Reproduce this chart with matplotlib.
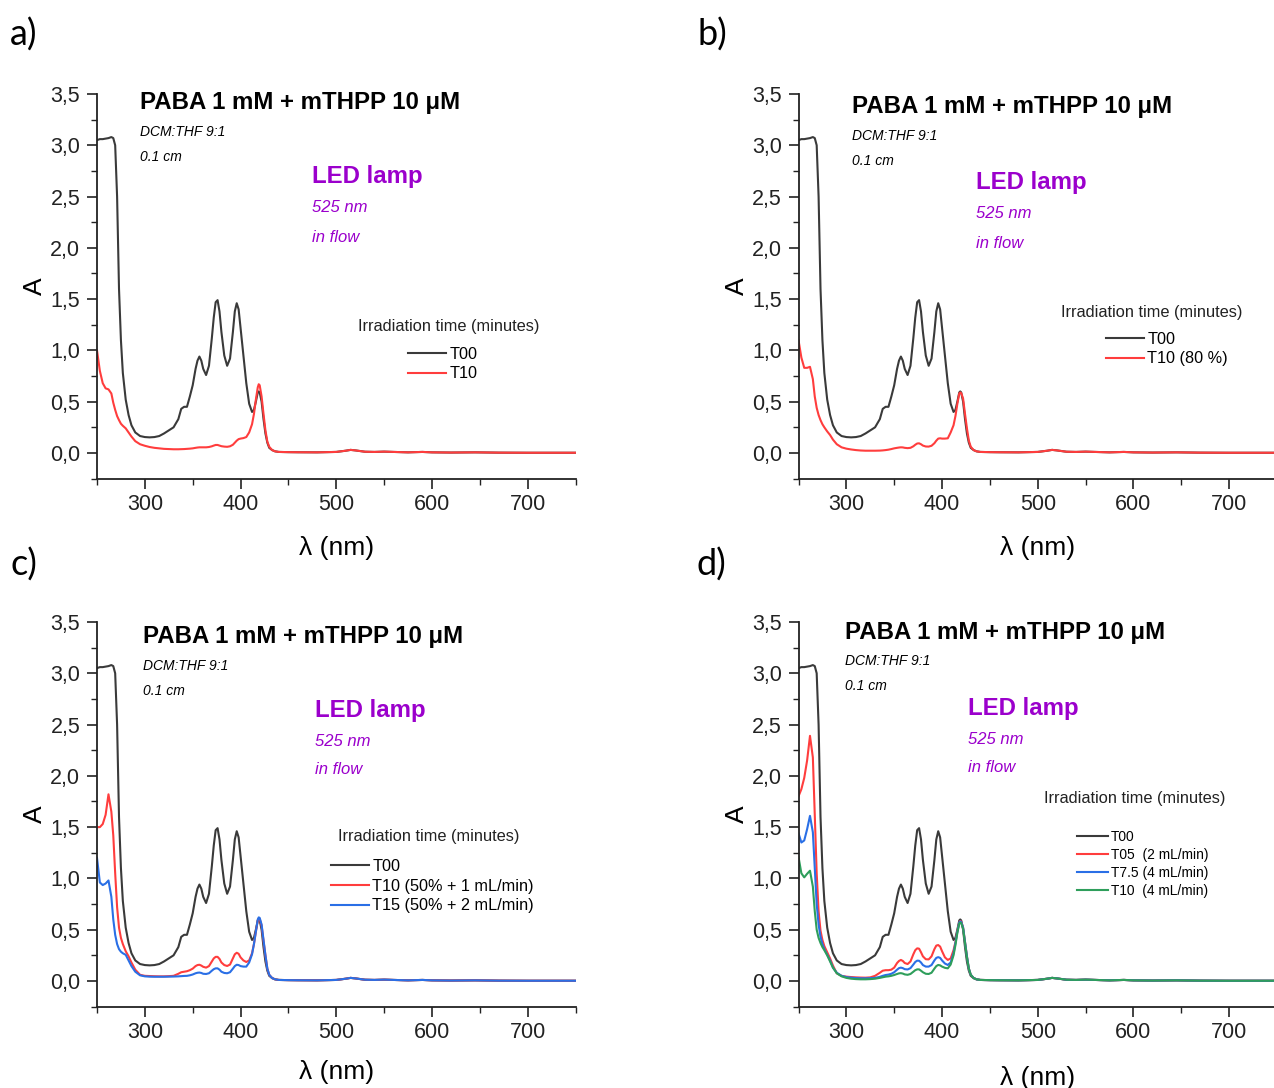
import matplotlib
matplotlib.use("Agg")
import matplotlib.pyplot as plt
from matplotlib.ticker import MultipleLocator, FuncFormatter

plt.rcParams['font.family'] = ['Liberation Sans', 'DejaVu Sans']

# ---------------- data ----------------
wl_head = [250, 253, 256, 259, 262, 265, 267, 269, 271, 273, 275, 277, 280, 283, 286, 290,
           295, 300, 305, 310, 315, 320, 325, 330, 335, 338, 341, 344, 347, 350, 353, 355,
           357, 359, 361, 364, 367, 370, 372, 374, 376, 378, 380, 383, 386, 389, 392, 394,
           396, 398, 400, 403, 406, 409, 412, 414, 416, 418, 419, 420, 422, 424, 426, 428, 430]
wl_tail = [433, 436, 440, 450, 460, 480, 500, 510, 515, 520, 530, 540, 550, 560, 575, 590,
           600, 620, 645, 670, 700, 730, 750]
# Q-band baseline region, common to every spectrum
abs_tail = [0.028, 0.016, 0.010, 0.008, 0.007, 0.006, 0.010, 0.022, 0.030, 0.025, 0.012, 0.010,
            0.013, 0.010, 0.006, 0.010, 0.006, 0.004, 0.006, 0.003, 0.002, 0.002, 0.002]

t00 = [3.05, 3.06, 3.06, 3.065, 3.07, 3.08, 3.07, 3.00, 2.50, 1.60, 1.10, 0.78, 0.52, 0.37, 0.27, 0.20,
       0.165, 0.155, 0.152, 0.155, 0.165, 0.19, 0.22, 0.25, 0.33, 0.43, 0.45, 0.45, 0.55, 0.66, 0.82, 0.90,
       0.94, 0.90, 0.82, 0.76, 0.85, 1.12, 1.32, 1.47, 1.49, 1.38, 1.18, 0.95, 0.85, 0.92, 1.18, 1.38,
       1.46, 1.40, 1.22, 0.95, 0.68, 0.48, 0.40, 0.42, 0.50, 0.59, 0.60, 0.59, 0.50, 0.33, 0.19, 0.10, 0.05]

a_t10 = [1.00, 0.80, 0.68, 0.63, 0.62, 0.58, 0.49, 0.42, 0.36, 0.32, 0.285, 0.265, 0.24, 0.20, 0.16, 0.115,
         0.085, 0.07, 0.058, 0.05, 0.045, 0.04, 0.038, 0.036, 0.036, 0.037, 0.038, 0.04, 0.042, 0.045, 0.05, 0.053,
         0.055, 0.055, 0.055, 0.055, 0.058, 0.065, 0.072, 0.078, 0.078, 0.072, 0.066, 0.062, 0.06, 0.065, 0.08, 0.10,
         0.12, 0.135, 0.14, 0.145, 0.155, 0.20, 0.28, 0.38, 0.52, 0.64, 0.67, 0.66, 0.55, 0.38, 0.22, 0.11, 0.06]

b_t10 = [1.10, 0.93, 0.83, 0.83, 0.84, 0.72, 0.55, 0.44, 0.37, 0.32, 0.28, 0.25, 0.21, 0.175, 0.13, 0.085,
         0.055, 0.042, 0.034, 0.028, 0.024, 0.022, 0.022, 0.022, 0.023, 0.025, 0.028, 0.032, 0.038, 0.045, 0.05, 0.053,
         0.055, 0.054, 0.05, 0.047, 0.05, 0.065, 0.08, 0.092, 0.094, 0.085, 0.072, 0.063, 0.062, 0.07, 0.095, 0.12,
         0.14, 0.143, 0.14, 0.14, 0.143, 0.20, 0.27, 0.36, 0.48, 0.58, 0.59, 0.585, 0.53, 0.38, 0.24, 0.12, 0.06]

c_t10 = [1.50, 1.50, 1.53, 1.62, 1.82, 1.65, 1.42, 1.05, 0.72, 0.52, 0.42, 0.36, 0.29, 0.24, 0.18, 0.11,
         0.06, 0.05, 0.048, 0.046, 0.045, 0.045, 0.047, 0.05, 0.07, 0.085, 0.09, 0.095, 0.105, 0.12, 0.145, 0.155,
         0.158, 0.15, 0.138, 0.13, 0.145, 0.19, 0.22, 0.235, 0.235, 0.215, 0.18, 0.155, 0.146, 0.16, 0.22, 0.26,
         0.275, 0.265, 0.23, 0.20, 0.185, 0.20, 0.27, 0.36, 0.48, 0.59, 0.61, 0.605, 0.54, 0.39, 0.25, 0.12, 0.06]

c_t15 = [1.20, 0.96, 0.935, 0.95, 0.98, 0.82, 0.60, 0.45, 0.36, 0.31, 0.285, 0.27, 0.255, 0.20, 0.145, 0.09,
         0.055, 0.045, 0.042, 0.041, 0.041, 0.041, 0.042, 0.043, 0.045, 0.047, 0.049, 0.05, 0.055, 0.063, 0.075, 0.08,
         0.082, 0.078, 0.07, 0.068, 0.075, 0.10, 0.115, 0.123, 0.123, 0.11, 0.09, 0.078, 0.075, 0.085, 0.12, 0.145,
         0.158, 0.155, 0.145, 0.14, 0.14, 0.18, 0.26, 0.36, 0.48, 0.60, 0.62, 0.615, 0.55, 0.40, 0.25, 0.12, 0.06]

d_t05 = [1.80, 1.87, 1.98, 2.15, 2.39, 2.18, 1.62, 1.05, 0.68, 0.49, 0.40, 0.34, 0.28, 0.22, 0.15, 0.075,
         0.05, 0.042, 0.038, 0.035, 0.033, 0.032, 0.035, 0.05, 0.08, 0.10, 0.105, 0.105, 0.11, 0.13, 0.175, 0.195,
         0.205, 0.195, 0.175, 0.165, 0.19, 0.26, 0.30, 0.318, 0.315, 0.28, 0.24, 0.212, 0.21, 0.24, 0.31, 0.345,
         0.35, 0.335, 0.29, 0.23, 0.205, 0.22, 0.30, 0.38, 0.49, 0.57, 0.585, 0.58, 0.52, 0.38, 0.24, 0.12, 0.06]

d_t75 = [1.44, 1.35, 1.37, 1.48, 1.61, 1.45, 1.10, 0.75, 0.55, 0.43, 0.36, 0.31, 0.255, 0.20, 0.13, 0.08,
         0.05, 0.038, 0.032, 0.028, 0.026, 0.026, 0.027, 0.03, 0.04, 0.05, 0.058, 0.062, 0.07, 0.085, 0.11, 0.125,
         0.13, 0.125, 0.115, 0.112, 0.125, 0.16, 0.185, 0.198, 0.197, 0.18, 0.155, 0.14, 0.14, 0.155, 0.20, 0.225,
         0.232, 0.225, 0.20, 0.17, 0.156, 0.18, 0.27, 0.37, 0.48, 0.57, 0.58, 0.575, 0.52, 0.38, 0.24, 0.12, 0.06]

d_t10 = [1.21, 1.05, 1.01, 1.045, 1.075, 0.92, 0.68, 0.50, 0.42, 0.37, 0.33, 0.30, 0.25, 0.19, 0.13, 0.075,
         0.045, 0.03, 0.022, 0.018, 0.016, 0.016, 0.018, 0.022, 0.03, 0.036, 0.042, 0.045, 0.05, 0.058, 0.068, 0.074,
         0.076, 0.072, 0.064, 0.06, 0.068, 0.09, 0.105, 0.113, 0.113, 0.10, 0.085, 0.07, 0.068, 0.08, 0.12, 0.145,
         0.156, 0.152, 0.14, 0.128, 0.123, 0.16, 0.25, 0.35, 0.47, 0.56, 0.57, 0.565, 0.51, 0.37, 0.23, 0.12, 0.06]

wavelength = wl_head + wl_tail

legend_a = ["T00", "T10"]
legend_b = ["T00", "T10 (80 %)"]
legend_c = ["T00", "T10 (50% + 1 mL/min)", "T15 (50% + 2 mL/min)"]
legend_d = ["T00", "T05  (2 mL/min)", "T7.5 (4 mL/min)", "T10  (4 mL/min)"]

title_txt = "PABA 1 mM + mTHPP 10 \u03bcM"
xticks = [300, 400, 500, 600, 700]

# ---------------- styling / layout ----------------
W, H = 1274, 1088
BLACK = '#3a3a3a'
RED = '#ff3d3d'
BLUE = '#2a6fe6'
GREEN = '#2e9e5b'
PURPLE = '#9b00cc'

fig = plt.figure(figsize=(W / 100, H / 100), dpi=100)


def fx(px):
    return px / W


def fy(py):
    return 1 - py / H


panels = [
    dict(label="a)", lab=(10, 35), rect=(97, 478.6), series=[t00, a_t10], colors=[BLACK, RED],
         names=legend_a, title=(140, 103), led=(312, 177), leg_title=(358, 327),
         leg=(408, 364), leg_fs=11.7, leg_sp=0.29, xpad=15.5),
    dict(label="b)", lab=(697, 35), rect=(798.5, 478.6), series=[t00, b_t10], colors=[BLACK, RED],
         names=legend_b, title=(852, 107), led=(976, 183), leg_title=(1061, 313),
         leg=(1106, 349), leg_fs=11.7, leg_sp=0.29, xpad=15.5),
    dict(label="c)", lab=(10, 565), rect=(97, 1006.6), series=[t00, c_t10, c_t15],
         colors=[BLACK, RED, BLUE], names=legend_c, title=(143, 637), led=(315, 710),
         leg_title=(338, 837), leg=(331, 886), leg_fs=11.7, leg_sp=0.29, xpad=12.5),
    dict(label="d)", lab=(697, 565), rect=(798.5, 1006.6), series=[t00, d_t05, d_t75, d_t10],
         colors=[BLACK, RED, BLUE, GREEN], names=legend_d, title=(845, 632), led=(968, 708),
         leg_title=(1044, 799), leg=(1077, 864), leg_fs=9.9, leg_sp=0.28, xpad=16.5),
]

ax_w = 478.5
ax_h = 384.6

for p in panels:
    left, bottom = p["rect"]
    ax = fig.add_axes([fx(left), fy(bottom), ax_w / W, ax_h / H])
    lines = []
    for vals, col, name in zip(p["series"], p["colors"], p["names"]):
        ln, = ax.plot(wavelength, list(vals) + abs_tail, color=col, lw=1.5, label=name)
        lines.append(ln)
    ax.set_xlim(250, 750)
    ax.set_ylim(-0.25, 3.5)
    for s in ('top', 'right'):
        ax.spines[s].set_visible(False)
    for s in ('left', 'bottom'):
        ax.spines[s].set_linewidth(1.3)
        ax.spines[s].set_color('#222222')
    ax.set_xticks(xticks)
    ax.xaxis.set_minor_locator(MultipleLocator(50))
    ax.yaxis.set_major_locator(MultipleLocator(0.5))
    ax.yaxis.set_minor_locator(MultipleLocator(0.25))
    ax.yaxis.set_major_formatter(FuncFormatter(lambda v, pos: f"{v:.1f}".replace('.', ',')))
    ax.tick_params(which='major', direction='out', length=7, width=1.2, labelsize=15.5,
                   colors='#222222', pad=5)
    ax.tick_params(which='minor', direction='out', length=4, width=1.0, colors='#222222')
    ax.tick_params(axis='x', which='major', pad=4)
    ax.set_ylim(-0.25, 3.5)
    ax.set_xlabel("\u03bb (nm)", fontsize=19, labelpad=p["xpad"])
    ax.set_ylabel("A", fontsize=19, labelpad=2)

    # panel label
    fig.text(fx(p["lab"][0]), fy(p["lab"][1]), p["label"], fontsize=26, family=['Lato', 'DejaVu Sans'],
             ha='left', va='center')
    tx, ty = p["title"]
    fig.text(fx(tx), fy(ty), title_txt, fontsize=17.3, fontweight='bold', ha='left', va='center')
    fig.text(fx(tx), fy(ty + 29), "DCM:THF 9:1", fontsize=10, style='italic', ha='left', va='center')
    fig.text(fx(tx), fy(ty + 54), "0.1 cm", fontsize=10, style='italic', ha='left', va='center')
    lx, ly = p["led"]
    fig.text(fx(lx), fy(ly), "LED lamp", fontsize=17.3, fontweight='bold', color=PURPLE,
             ha='left', va='center')
    fig.text(fx(lx), fy(ly + 31), "525 nm", fontsize=12, style='italic', color=PURPLE,
             ha='left', va='center')
    fig.text(fx(lx), fy(ly + 60), "in flow", fontsize=12, style='italic', color=PURPLE,
             ha='left', va='center')
    # legend
    gx, gy = p["leg_title"]
    fig.text(fx(gx), fy(gy), "Irradiation time (minutes)", fontsize=11.8, ha='left', va='center',
             color='#222222')
    hx, hy = p["leg"]
    fs = p["leg_fs"]
    ax.legend(handles=lines, labels=p["names"], loc='center left',
              bbox_to_anchor=(fx(hx), fy(hy)), bbox_transform=fig.transFigure,
              frameon=False, fontsize=fs, handlelength=38 / (fs * 1.389) if fs > 10 else 31 / (fs * 1.389),
              handletextpad=0.2, labelspacing=p["leg_sp"], borderpad=0, borderaxespad=0)

fig.savefig("out.png", dpi=100)
